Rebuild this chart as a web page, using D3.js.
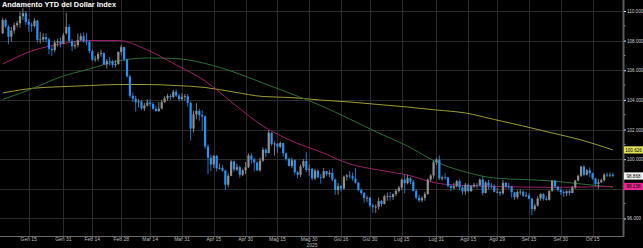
<!DOCTYPE html>
<html lang="it">
<head>
<meta charset="utf-8">
<title>Andamento YTD del Dollar Index</title>
<script src="https://d3js.org/d3.v7.min.js"></script>
<style>
  html, body { margin: 0; padding: 0; background: #000; }
  svg { display: block; font-family: "Liberation Sans", Arial, sans-serif; }
</style>
</head>
<body>
<div id="chart"></div>
<script>
// Daily candles [open, high, low, close], one per weekday from 2 Jan 2025 to 24 Oct 2025
var candles = [
  [108.49,109.54,108.46,109.39],[109.39,109.50,108.84,108.95],[108.95,109.04,107.75,108.26],[108.26,108.94,107.93,108.68],
  [108.68,109.21,108.49,109.05],[109.05,109.33,108.90,109.18],[109.18,109.96,108.89,109.65],[109.65,110.18,109.40,109.85],
  [109.85,110.00,109.05,109.26],[109.26,109.47,108.61,109.08],[109.08,109.22,108.60,109.00],[109.00,109.51,108.88,109.35],
  [109.35,109.40,107.85,108.04],[108.04,108.60,107.80,108.08],[108.08,108.50,107.92,108.24],[108.24,108.48,107.88,108.09],
  [108.09,108.20,107.08,107.44],[107.44,107.62,106.96,107.36],[107.36,108.02,107.20,107.87],[107.87,108.14,107.60,107.95],
  [107.95,108.21,107.56,107.80],[107.80,108.52,107.76,108.37],
  // feb
  [108.50,109.88,108.40,108.92],[108.92,109.10,107.90,107.98],[107.98,108.10,107.30,107.62],[107.62,107.95,107.45,107.70],
  [107.70,108.47,107.55,108.05],[108.05,108.50,107.95,108.30],[108.30,108.55,107.85,107.95],[107.95,108.52,107.70,107.92],
  [107.92,108.03,107.15,107.30],[107.30,107.40,106.62,106.72],[106.72,106.98,106.56,106.78],[106.78,107.25,106.60,107.10],
  [107.10,107.40,106.92,107.16],[107.16,107.20,106.35,106.40],[106.40,106.75,106.12,106.62],[106.62,106.90,106.30,106.60],
  [106.60,106.72,106.18,106.36],[106.36,106.70,106.20,106.42],[106.42,107.27,106.38,107.24],[107.24,107.71,107.05,107.56],
  // mar
  [107.56,107.60,106.60,106.72],[106.72,106.80,105.50,105.59],[105.59,105.70,104.15,104.28],[104.28,104.50,103.85,104.08],
  [104.08,104.28,103.21,103.84],[103.84,104.05,103.50,103.90],[103.90,104.00,103.30,103.42],[103.42,103.80,103.25,103.62],
  [103.62,104.05,103.55,103.82],[103.82,104.05,103.55,103.72],[103.72,103.85,103.35,103.40],[103.40,103.60,103.20,103.25],
  [103.25,103.85,103.20,103.42],[103.42,104.00,103.35,103.85],[103.85,104.25,103.80,104.10],[104.10,104.40,103.95,104.27],
  [104.27,104.40,104.00,104.20],[104.20,104.68,104.10,104.55],[104.55,104.70,104.20,104.30],[104.30,104.40,103.90,104.05],
  [104.05,104.45,103.95,104.20],
  // apr
  [104.20,104.40,103.95,104.25],[104.25,104.40,103.55,103.80],[103.80,103.90,101.26,102.07],[102.07,103.28,101.80,103.02],
  [103.02,103.78,102.70,103.26],[103.26,103.40,102.60,102.98],[102.98,103.30,101.94,102.89],[102.89,102.95,100.70,100.86],
  [100.86,101.00,99.01,100.10],[100.10,100.30,99.20,99.64],[99.64,100.28,99.40,100.22],[100.22,100.30,99.17,99.38],
  [99.38,99.70,99.30,99.42],[99.42,99.60,99.15,99.23],[99.23,99.30,97.92,98.28],[98.28,99.05,98.10,98.88],
  [98.88,99.95,98.85,99.85],[99.85,99.90,99.15,99.30],[99.30,99.70,99.20,99.47],[99.47,99.55,98.75,98.95],
  [98.95,99.35,98.85,99.25],[99.25,99.80,99.00,99.46],
  // may
  [99.46,100.38,99.40,100.25],[100.25,100.40,99.70,99.98],[99.98,100.10,99.18,99.78],[99.78,99.85,99.20,99.25],
  [99.25,100.10,99.15,99.90],[99.90,100.80,99.80,100.64],[100.64,100.75,100.15,100.42],[100.42,101.97,100.40,101.79],
  [101.79,101.80,100.90,101.02],[101.02,101.20,100.25,101.05],[101.05,101.10,100.40,100.84],[100.84,101.20,100.75,101.09],
  [101.09,101.10,100.20,100.40],[100.40,100.45,99.90,100.02],[100.02,100.10,99.50,99.55],[99.55,100.10,99.40,99.93],
  [99.93,100.00,98.95,99.11],[99.11,99.20,98.70,98.95],[98.95,99.65,98.80,99.52],[99.52,100.00,99.40,99.87],
  [99.87,100.50,99.15,99.28],[99.28,99.65,98.90,99.35],
  // jun
  [99.35,99.40,98.58,98.70],[98.70,99.35,98.60,99.23],[99.23,99.30,98.70,98.80],[98.80,99.00,98.35,98.75],
  [98.75,99.40,98.70,99.19],[99.19,99.20,98.85,98.98],[98.98,99.25,98.80,99.08],[99.08,99.40,98.50,98.63],
  [98.63,98.70,97.60,97.92],[97.92,98.40,97.60,98.18],[98.18,98.25,97.82,98.02],[98.02,98.90,97.95,98.82],
  [98.82,99.00,98.55,98.90],[98.90,99.20,98.70,98.85],[98.85,99.10,98.55,98.70],[98.70,99.40,98.35,98.42],
  [98.42,98.45,97.85,97.92],[97.92,98.00,97.60,97.72],[97.72,97.80,97.08,97.38],[97.38,97.55,97.10,97.40],
  [97.40,97.45,96.75,96.88],
  // jul
  [96.88,97.00,96.38,96.78],[96.78,96.95,96.37,96.79],[96.79,97.42,96.60,97.18],[97.18,97.25,96.80,96.98],
  [96.98,97.60,96.95,97.50],[97.50,97.75,97.20,97.52],[97.52,97.80,97.20,97.45],[97.45,97.70,97.25,97.65],
  [97.65,98.00,97.50,97.85],[97.85,98.20,97.75,98.08],[98.08,98.70,97.90,98.62],[98.62,99.00,97.70,98.38],
  [98.38,98.95,98.30,98.72],[98.72,98.80,98.30,98.48],[98.48,98.60,97.85,97.85],[97.85,98.00,97.30,97.40],
  [97.40,97.60,97.10,97.22],[97.22,97.50,97.10,97.38],[97.38,97.80,97.20,97.65],[97.65,98.70,97.60,98.62],
  [98.62,99.00,98.50,98.90],[98.90,99.90,98.70,99.80],[99.80,100.10,99.60,99.97],
  // aug
  [99.97,100.25,98.60,98.69],[98.69,98.90,98.55,98.78],[98.78,99.05,98.60,98.77],[98.77,98.80,98.10,98.19],
  [98.19,98.30,97.85,98.07],[98.07,98.40,97.95,98.18],[98.18,98.60,98.10,98.52],[98.52,98.65,97.90,98.09],
  [98.09,98.20,97.60,97.82],[97.82,98.40,97.60,98.28],[98.28,98.35,97.75,97.85],[97.85,98.25,97.80,98.17],
  [98.17,98.40,98.05,98.27],[98.27,98.40,98.00,98.23],[98.23,98.70,98.20,98.62],[98.62,98.85,97.55,97.72],
  [97.72,98.50,97.70,98.42],[98.42,98.60,97.95,98.22],[98.22,98.40,98.00,98.20],[98.20,98.30,97.75,97.80],
  [97.80,98.05,97.70,97.80],
  // sep
  [97.80,97.85,97.50,97.70],[97.70,98.60,97.60,98.40],[98.40,98.45,98.00,98.16],[98.16,98.40,98.00,98.15],
  [98.15,98.20,97.40,97.77],[97.77,97.80,97.25,97.43],[97.43,97.90,97.30,97.79],[97.79,97.95,97.60,97.81],
  [97.81,97.90,97.45,97.54],[97.54,97.80,97.45,97.55],[97.55,97.70,97.30,97.33],[97.33,97.40,96.22,96.63],
  [96.63,97.00,96.50,96.87],[96.87,97.50,96.80,97.35],[97.35,97.70,97.20,97.65],[97.65,97.70,97.20,97.33],
  [97.33,97.50,97.20,97.26],[97.26,97.90,97.20,97.86],[97.86,98.60,97.80,98.55],[98.55,98.60,98.05,98.15],
  [98.15,98.20,97.80,97.92],[97.92,98.05,97.60,97.78],
  // oct
  [97.78,97.90,97.45,97.70],[97.70,97.90,97.50,97.85],[97.85,97.95,97.55,97.72],[97.72,98.20,97.70,98.10],
  [98.10,98.60,98.00,98.56],[98.56,98.95,98.50,98.88],[98.88,99.56,98.80,99.50],[99.50,99.60,98.85,98.95],
  [98.95,99.35,98.90,99.25],[99.25,99.45,98.80,99.05],[99.05,99.10,98.60,98.70],[98.70,98.75,98.20,98.33],
  [98.33,98.65,98.00,98.44],[98.44,98.70,98.40,98.58],[98.58,99.05,98.50,98.96],[98.96,99.10,98.80,98.92],
  [98.92,99.10,98.80,98.95],[98.95,99.10,98.78,98.87]
];

// moving averages, read every 10 trading days (index of the candle)
var maIndex = [0, 10, 20, 30, 40, 50, 60, 70, 80, 90, 100, 110, 120, 130, 140, 150, 160, 170, 180, 190, 200, 211];
var ma50  = [106.42,107.30,107.77,108.01,108.01,107.37,106.36,105.28,103.72,102.24,101.23,100.49,99.68,99.27,98.93,98.39,98.22,98.16,98.12,98.10,98.12,98.158];
var ma100 = [104.03,104.74,105.55,106.09,106.63,106.83,106.79,106.46,105.88,105.14,104.40,103.62,102.71,101.77,100.89,99.81,99.14,98.73,98.63,98.53,98.33,98.12];
var ma200 = [104.47,104.78,104.89,104.97,105.04,105.04,104.97,104.84,104.53,104.23,104.16,103.99,103.86,103.69,103.52,103.32,103.12,102.68,102.24,101.77,101.30,100.626];

var tickDates  = ["2025-01-15","2025-01-31","2025-02-14","2025-02-28","2025-03-14","2025-03-31","2025-04-15","2025-04-30",
                  "2025-05-15","2025-05-30","2025-06-16","2025-06-30","2025-07-15","2025-07-31","2025-08-15","2025-08-29",
                  "2025-09-15","2025-09-30","2025-10-15"];
var tickLabels = ["Gen 15","Gen 31","Feb 14","Feb 28","Mar 14","Mar 31","Apr 15","Apr 30","Mag 15","Mag 30",
                  "Giu 16","Giu 30","Lug 15","Lug 31","Ago 15","Ago 29","Set 15","Set 30","Ott 15"];
var gridValues = [96, 98, 100, 102, 104, 106, 108, 110];
// 98.000 sits behind the value tags in the original, so it has no label
var yLabelValues = [96, 100, 102, 104, 106, 108, 110];
var lastClose = 98.868;

var width = 643, height = 248;
var plotRight = 623, plotBottom = 236;

var fmtKey = d3.timeFormat("%Y-%m-%d");
var days = d3.timeDay.range(new Date(2025, 0, 2), new Date(2025, 9, 25))
  .filter(function(d) { return d.getDay() != 0 && d.getDay() != 6; })
  .map(fmtKey);

var svg = d3.select("#chart").append("svg")
  .attr("width", width).attr("height", height);
svg.append("rect").attr("width", width).attr("height", height).attr("fill", "#000");

var x = d3.scaleBand().domain(days).range([1.22, 614.3]).padding(0);
var xc = function(i) { return x(days[i]) + x.bandwidth() / 2; };
var y = d3.scaleLinear().domain([94.818, 110.742]).range([plotBottom, 0]);

// grid
svg.append("g").selectAll("line").data(gridValues).enter().append("line")
  .attr("x1", 0).attr("x2", plotRight)
  .attr("y1", function(d) { return Math.round(y(d)) + 0.5; })
  .attr("y2", function(d) { return Math.round(y(d)) + 0.5; })
  .attr("stroke", "#2b2b2b").attr("stroke-width", 1);
svg.append("g").selectAll("line").data(tickDates).enter().append("line")
  .attr("x1", function(d) { return Math.round(x(d) + x.bandwidth() / 2) + 0.5; })
  .attr("x2", function(d) { return Math.round(x(d) + x.bandwidth() / 2) + 0.5; })
  .attr("y1", 0).attr("y2", plotBottom)
  .attr("stroke", "#2b2b2b").attr("stroke-width", 1);

// moving averages
function maLine(vals, color) {
  svg.append("path")
    .datum(maIndex.map(function(i, k) { return [xc(i), y(vals[k])]; }))
    .attr("fill", "none")
    .attr("stroke", color)
    .attr("stroke-width", 1)
    .attr("d", d3.line().curve(d3.curveMonotoneX));
}
maLine(ma200, "#9c9c34");
maLine(ma100, "#2c6e34");
maLine(ma50, "#9c2068");

// candles
var upCol = "#8e8e8e", downCol = "#2f8fee";
var g = svg.append("g");
g.selectAll("line").data(candles).enter().append("line")
  .attr("x1", function(d, i) { return xc(i); })
  .attr("x2", function(d, i) { return xc(i); })
  .attr("y1", function(d) { return y(d[1]); })
  .attr("y2", function(d) { return y(d[2]); })
  .attr("stroke", function(d) { return d[3] >= d[0] ? "#9a9a9a" : downCol; })
  .attr("stroke-width", 0.8);
g.selectAll("rect").data(candles).enter().append("rect")
  .attr("x", function(d, i) { return xc(i) - 1.1; })
  .attr("width", 2.2)
  .attr("y", function(d) { return y(Math.max(d[0], d[3])); })
  .attr("height", function(d) { return Math.max(0.8, Math.abs(y(d[0]) - y(d[3]))); })
  .attr("fill", function(d) { return d[3] >= d[0] ? upCol : downCol; });

// x axis
var xAxis = svg.append("g")
  .attr("transform", "translate(0," + plotBottom + ")")
  .call(d3.axisBottom(x).tickValues(tickDates).tickSize(2).tickPadding(-0.5)
    .tickFormat(function(d, i) { return tickLabels[i]; }));
xAxis.select(".domain").remove();
xAxis.selectAll(".tick line").attr("stroke", "#777");
xAxis.selectAll("text").attr("fill", "#bdbdbd").attr("font-size", "5px");
svg.append("line").attr("x1", 0).attr("x2", plotRight + 1)
  .attr("y1", plotBottom + 0.5).attr("y2", plotBottom + 0.5)
  .attr("stroke", "#6a6a6a").attr("stroke-width", 1);
svg.append("text").attr("x", 312).attr("y", 247).attr("text-anchor", "middle")
  .attr("fill", "#bdbdbd").attr("font-size", "5px").text("2025");

// y axis on the right
svg.append("line").attr("x1", plotRight + 0.5).attr("x2", plotRight + 0.5)
  .attr("y1", 0).attr("y2", plotBottom + 1)
  .attr("stroke", "#5a5a5a").attr("stroke-width", 2);
var yAxis = svg.append("g")
  .attr("transform", "translate(" + (plotRight + 1) + ",0)")
  .call(d3.axisRight(y).tickValues(yLabelValues).tickSize(2).tickPadding(1)
    .tickFormat(d3.format(".3f")));
yAxis.select(".domain").remove();
yAxis.selectAll(".tick line").attr("stroke", "#ddd");
yAxis.selectAll("text").attr("fill", "#cfcfcf").attr("font-size", "4.6px");
svg.append("g").selectAll("line").data([97, 98, 99, 101, 103, 105, 107, 109]).enter().append("line")
  .attr("x1", plotRight + 1).attr("x2", plotRight + 2.5)
  .attr("y1", function(d) { return y(d); }).attr("y2", function(d) { return y(d); })
  .attr("stroke", "#888");

// value tags
var tags = [
  { v: ma200[ma200.length - 1], bg: "#e4e45c" },
  { v: lastClose, bg: "#f2f2f2" },
  { v: ma50[ma50.length - 1], bg: "#e8288e" }
];
var tg = svg.append("g").selectAll("g").data(tags).enter().append("g")
  .attr("transform", function(d) { return "translate(624," + y(d.v) + ")"; });
tg.append("rect").attr("x", 0).attr("y", -3.6).attr("width", 19).attr("height", 7.2)
  .attr("fill", function(d) { return d.bg; });
tg.append("text").attr("x", 9.5).attr("y", 1.7).attr("text-anchor", "middle")
  .attr("font-size", "4.6px").attr("fill", "#000")
  .text(function(d) { return d3.format(".3f")(d.v); });

// title
svg.append("text").attr("x", 2).attr("y", 7.2)
  .attr("fill", "#fff").attr("font-weight", "bold").attr("font-size", "7.4px")
  .attr("textLength", 114).attr("lengthAdjust", "spacingAndGlyphs")
  .text("Andamento YTD del Dollar Index");
</script>
</body>
</html>
